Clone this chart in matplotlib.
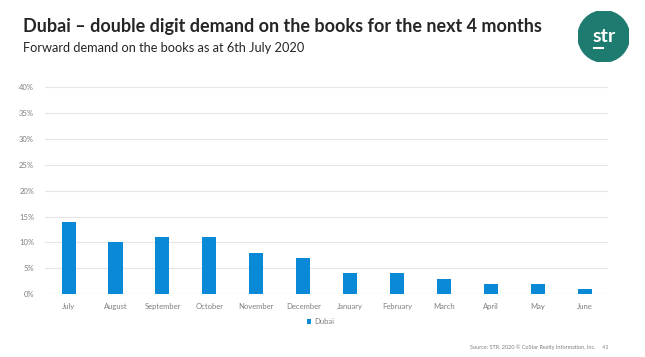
import matplotlib.pyplot as plt
from matplotlib.patches import Circle

months = ["July", "August", "September", "October", "November", "December",
          "January", "February", "March", "April", "May", "June"]
dubai = [14, 10, 11, 11, 8, 7, 4, 4, 3, 2, 2, 1]
yticks = [0, 5, 10, 15, 20, 25, 30, 35, 40]

plt.rcParams['font.family'] = ['Lato', 'DejaVu Sans']

fig = plt.figure(figsize=(6.45, 3.57), dpi=100)
ax = fig.add_axes([0.070, 0.176, 0.873, 0.580])

x = range(len(months))
ax.bar(x, dubai, width=0.3, color="#0a8ad6", zorder=3, label="Dubai")
ax.set_xlim(-0.5, len(months) - 0.5)
ax.set_ylim(0, 40)
ax.set_yticks(yticks)
ax.set_yticklabels([f"{v}%" for v in yticks])
ax.set_xticks(list(x))
ax.set_xticklabels(months)
ax.tick_params(axis="both", length=0, labelsize=5.5, labelcolor="#7f7f7f")
ax.tick_params(axis="x", pad=6)
ax.tick_params(axis="y", pad=8)
ax.grid(axis="y", color="#e6e6e6", linewidth=0.8, zorder=0)
for s in ax.spines.values():
    s.set_visible(False)
ax.axhline(0, color="#d9d9d9", linewidth=0.8, zorder=2)

leg = fig.legend(loc="center", bbox_to_anchor=(0.497, 0.100), frameon=False,
                 fontsize=5.5, handlelength=0.6, handleheight=0.6, handletextpad=0.4)
for t in leg.get_texts():
    t.set_color("#7f7f7f")

fig.text(0.036, 0.925, "Dubai – double digit demand on the books for the next 4 months",
         fontsize=13, fontweight="bold", color="#262626", va="center")
fig.text(0.036, 0.866, "Forward demand on the books as at 6th July 2020",
         fontsize=9.2, color="#262626", va="center")
fig.text(0.943, 0.028, "Source: STR. 2020 © CoStar Realty Information, Inc.     41",
         fontsize=4, color="#7f7f7f", ha="right", va="center")

# logo
logo = fig.add_axes([0.896, 0.826, 0.080, 0.144])
logo.set_xlim(-1, 1)
logo.set_ylim(-1, 1)
logo.set_aspect("equal")
logo.axis("off")
logo.add_patch(Circle((0, 0), 1, color="#1e7b70"))
logo.text(0, 0.0, "str", color="white", fontsize=14, fontweight="bold",
          ha="center", va="center")
logo.plot([-0.38, -0.02], [-0.45, -0.45], color="white", linewidth=1.5)

fig.savefig("out.png", dpi=100)
